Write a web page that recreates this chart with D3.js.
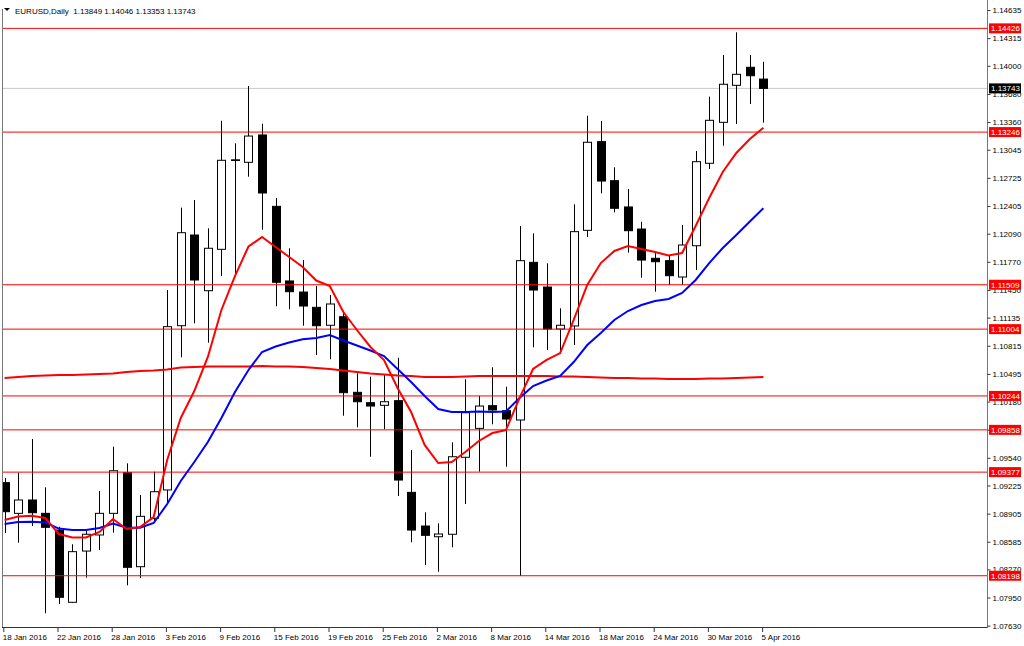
<!DOCTYPE html>
<html>
<head>
<meta charset="utf-8">
<script src="https://cdn.jsdelivr.net/npm/d3@7"></script>
<style>
  html, body { margin: 0; padding: 0; background: #fff; }
  svg { display: block; }
  text { font-family: "Liberation Sans", Arial, sans-serif; }
</style>
</head>
<body>
<svg id="chart" width="1024" height="646"></svg>
<script>
// ---------------- DATA ----------------
const symbolTitle = "EURUSD,Daily";
const dates = [
  "2016-01-18","2016-01-19","2016-01-20","2016-01-21","2016-01-22",
  "2016-01-25","2016-01-26","2016-01-27","2016-01-28","2016-01-29",
  "2016-02-01","2016-02-02","2016-02-03","2016-02-04","2016-02-05",
  "2016-02-08","2016-02-09","2016-02-10","2016-02-11","2016-02-12",
  "2016-02-15","2016-02-16","2016-02-17","2016-02-18","2016-02-19",
  "2016-02-22","2016-02-23","2016-02-24","2016-02-25","2016-02-26",
  "2016-02-29","2016-03-01","2016-03-02","2016-03-03","2016-03-04",
  "2016-03-07","2016-03-08","2016-03-09","2016-03-10","2016-03-11",
  "2016-03-14","2016-03-15","2016-03-16","2016-03-17","2016-03-18",
  "2016-03-21","2016-03-22","2016-03-23","2016-03-24","2016-03-25",
  "2016-03-28","2016-03-29","2016-03-30","2016-03-31","2016-04-01",
  "2016-04-04","2016-04-05"
];
const opens = [
  1.09257,1.08908,1.09060,1.08908,1.08718,
  1.07896,1.08479,1.08662,1.08908,1.09370,
  1.08301,1.08852,1.09174,1.11043,1.12075,
  1.11441,1.11912,1.12930,1.12902,1.13213,
  1.12401,1.11552,1.11426,1.11252,1.11048,
  1.11145,1.10285,1.10167,1.10137,1.10190,
  1.09147,1.08764,1.08642,1.08670,1.09546,
  1.09875,1.10133,1.10076,1.09970,1.11764,
  1.11483,1.11005,1.11040,1.12128,1.13137,
  1.12693,1.12394,1.12143,1.11810,1.11783,
  1.11597,1.11953,1.12891,1.13357,1.13778,
  1.13983,1.13849
];
const highs = [
  1.09310,1.09370,1.09754,1.09204,1.08756,
  1.08556,1.08730,1.09162,1.09666,1.09477,
  1.09117,1.09382,1.11449,1.12386,1.12473,
  1.12151,1.13375,1.13118,1.13770,1.13341,
  1.12496,1.11924,1.11790,1.11495,1.11392,
  1.11214,1.10501,1.10463,1.10490,1.10679,
  1.09629,1.08920,1.08795,1.09716,1.10433,
  1.10243,1.10570,1.10349,1.12177,1.12094,
  1.11753,1.11241,1.12424,1.13432,1.13372,
  1.12845,1.12598,1.12226,1.11874,1.11847,
  1.12189,1.13031,1.13649,1.14123,1.14381,
  1.14123,1.14046
];
const lows = [
  1.08684,1.08574,1.08764,1.07771,1.07876,
  1.07888,1.08176,1.08491,1.08688,1.08089,
  1.08172,1.08821,1.09022,1.10683,1.11070,
  1.10850,1.11608,1.11600,1.12738,1.12135,
  1.11264,1.11230,1.11043,1.10710,1.10661,
  1.10019,1.09887,1.09552,1.09864,1.09105,
  1.08579,1.08320,1.08244,1.08522,1.09014,
  1.09382,1.09921,1.09439,1.08195,1.10797,
  1.10766,1.10729,1.10823,1.12052,1.12549,
  1.12333,1.11874,1.11589,1.11430,1.11506,
  1.11506,1.11677,1.12826,1.13091,1.13338,
  1.13565,1.13353
];
const closes = [
  1.08927,1.09060,1.08915,1.08749,1.07953,
  1.08472,1.08670,1.08908,1.09393,1.08294,
  1.08874,1.09154,1.11032,1.12101,1.11563,
  1.11924,1.12925,1.12925,1.13201,1.12553,
  1.11537,1.11430,1.11267,1.11043,1.11290,
  1.10281,1.10178,1.10129,1.10178,1.09287,
  1.08718,1.08658,1.08673,1.09552,1.10053,
  1.10129,1.10084,1.09981,1.11783,1.11449,
  1.11005,1.11048,1.12113,1.13130,1.12689,
  1.12379,1.12124,1.11790,1.11771,1.11612,
  1.11961,1.12909,1.13380,1.13790,1.13903,
  1.13887,1.13743
];
// moving averages
const fastMA = [
  1.08832,1.08872,1.08881,1.08855,1.08673,1.08633,1.08633,1.08696,1.08844,1.08730,
  1.08753,1.08866,1.09515,1.09993,1.10300,1.10687,1.11222,1.11608,1.11944,1.12052,
  1.11938,1.11825,1.11711,1.11557,1.11495,1.11199,1.10994,1.10801,1.10653,1.10334,
  1.10061,1.09686,1.09481,1.09492,1.09606,1.09731,1.09822,1.09856,1.10220,1.10550,
  1.10653,1.10732,1.11108,1.11506,1.11756,1.11893,1.11950,1.11916,1.11882,1.11842,
  1.11870,1.12177,1.12496,1.12792,1.13008,1.13167,1.13296
];
const slowMA = [
  1.08787,1.08809,1.08813,1.08804,1.08735,1.08718,1.08718,1.08741,1.08792,1.08745,
  1.08745,1.08798,1.09014,1.09276,1.09492,1.09720,1.09993,1.10289,1.10539,1.10744,
  1.10806,1.10852,1.10888,1.10903,1.10937,1.10875,1.10818,1.10761,1.10698,1.10550,
  1.10402,1.10243,1.10095,1.10061,1.10061,1.10067,1.10061,1.10067,1.10220,1.10357,
  1.10419,1.10471,1.10630,1.10823,1.10960,1.11108,1.11210,1.11278,1.11324,1.11347,
  1.11415,1.11563,1.11756,1.11927,1.12075,1.12229,1.12379
];
const longMA = [
  1.10448,1.10459,1.10471,1.10476,1.10482,1.10482,1.10488,1.10493,1.10499,1.10516,
  1.10528,1.10533,1.10545,1.10567,1.10573,1.10579,1.10579,1.10579,1.10579,1.10584,
  1.10579,1.10579,1.10573,1.10562,1.10550,1.10533,1.10516,1.10499,1.10488,1.10476,
  1.10471,1.10459,1.10459,1.10459,1.10465,1.10471,1.10471,1.10471,1.10471,1.10471,
  1.10471,1.10465,1.10465,1.10459,1.10454,1.10448,1.10448,1.10442,1.10442,1.10437,
  1.10437,1.10437,1.10442,1.10442,1.10448,1.10454,1.10459
];
const levels = [1.14426, 1.13246, 1.11509, 1.11004, 1.10244, 1.09858, 1.09377, 1.08198];
const priceTicks = [1.14635,1.14315,1.14000,1.13680,1.13360,1.13045,1.12725,1.12405,1.12090,
  1.11770,1.11450,1.11135,1.10815,1.10495,1.10180,1.09860,1.09540,1.09225,1.08905,
  1.08585,1.08270,1.07950,1.07630];
const dateTickLabels = ["18 Jan 2016","22 Jan 2016","28 Jan 2016","3 Feb 2016","9 Feb 2016",
  "15 Feb 2016","19 Feb 2016","25 Feb 2016","2 Mar 2016","8 Mar 2016","14 Mar 2016",
  "18 Mar 2016","24 Mar 2016","30 Mar 2016","5 Apr 2016"];
const dateTickDates = ["2016-01-18","2016-01-22","2016-01-28","2016-02-03","2016-02-09",
  "2016-02-15","2016-02-19","2016-02-25","2016-03-02","2016-03-08","2016-03-14",
  "2016-03-18","2016-03-24","2016-03-30","2016-04-05"];

// ---------------- LAYOUT ----------------
const svg = d3.select("#chart");
const plotLeft = 2, plotRight = 988, plotBottom = 628;
const x = d3.scalePoint().domain(dates).range([4.6, 763.4]);
const y = d3.scaleLinear().domain([1.07630, 1.14635]).range([625.67, 10]);
const font = "8px";

const clip = svg.append("defs").append("clipPath").attr("id", "plotclip")
  .append("rect").attr("x", plotLeft).attr("y", 0).attr("width", plotRight - plotLeft).attr("height", plotBottom);

const plot = svg.append("g").attr("clip-path", "url(#plotclip)");

// current price line
const lastClose = closes[closes.length - 1];
plot.append("line")
  .attr("x1", plotLeft).attr("x2", plotRight)
  .attr("y1", y(lastClose)).attr("y2", y(lastClose))
  .attr("stroke", "#c8c8c8").attr("stroke-width", 1);

// candles
const candles = plot.append("g");
dates.forEach((d, i) => {
  const cx = Math.round(x(d)) + 0.5;
  const o = opens[i], c = closes[i], h = highs[i], l = lows[i];
  const bull = c >= o;
  candles.append("line")
    .attr("x1", cx).attr("x2", cx)
    .attr("y1", y(h)).attr("y2", y(l))
    .attr("stroke", "#000").attr("stroke-width", 1);
  const top = y(Math.max(o, c)), bot = y(Math.min(o, c));
  candles.append("rect")
    .attr("x", cx - 4).attr("width", 8)
    .attr("y", top).attr("height", Math.max(bot - top, 0.6))
    .attr("fill", bull ? "#fff" : "#000")
    .attr("stroke", "#000").attr("stroke-width", 1);
});

// horizontal levels
levels.forEach(v => {
  plot.append("line")
    .attr("x1", plotLeft).attr("x2", plotRight)
    .attr("y1", y(v)).attr("y2", y(v))
    .attr("stroke", "#ff0000").attr("stroke-width", 1);
});

// moving averages
const line = d3.line().x((d, i) => x(dates[i])).y(d => y(d));
plot.append("path").datum(longMA).attr("d", line)
  .attr("fill", "none").attr("stroke", "#ff0000").attr("stroke-width", 2);
plot.append("path").datum(slowMA).attr("d", line)
  .attr("fill", "none").attr("stroke", "#0000ff").attr("stroke-width", 2);
plot.append("path").datum(fastMA).attr("d", line)
  .attr("fill", "none").attr("stroke", "#ff0000").attr("stroke-width", 2);

// frame
svg.append("line").attr("x1", plotLeft + 0.5).attr("x2", plotLeft + 0.5).attr("y1", 9).attr("y2", plotBottom)
  .attr("stroke", "#777");
svg.append("line").attr("x1", plotLeft).attr("x2", plotRight).attr("y1", plotBottom - 0.5).attr("y2", plotBottom - 0.5)
  .attr("stroke", "#333");
svg.append("line").attr("x1", plotRight - 0.5).attr("x2", plotRight - 0.5).attr("y1", 0).attr("y2", plotBottom)
  .attr("stroke", "#777");

// right price axis
const yAxis = d3.axisRight(y).tickValues(priceTicks).tickSize(3).tickPadding(2)
  .tickFormat(d3.format(".5f"));
const ya = svg.append("g").attr("transform", `translate(${plotRight - 0.5},0)`).call(yAxis);
ya.select(".domain").remove();
ya.selectAll("line").attr("stroke", "#333");
ya.selectAll("text").attr("font-size", font).attr("fill", "#000").attr("font-family", "Liberation Sans, Arial, sans-serif");

// level labels
levels.forEach(v => {
  svg.append("rect").attr("x", 989).attr("y", y(v) - 5).attr("width", 32).attr("height", 10).attr("fill", "#ff0000");
  svg.append("text").attr("x", 991).attr("y", y(v) + 3).attr("font-size", font).attr("fill", "#fff")
    .text(d3.format(".5f")(v));
});
svg.append("rect").attr("x", 989).attr("y", y(lastClose) - 5).attr("width", 32).attr("height", 10).attr("fill", "#000");
svg.append("text").attr("x", 991).attr("y", y(lastClose) + 3).attr("font-size", font).attr("fill", "#fff")
  .text(d3.format(".5f")(lastClose));

// bottom date axis
const xAxis = d3.axisBottom(x).tickValues(dateTickDates).tickSize(4).tickPadding(2)
  .tickFormat(d => dateTickLabels[dateTickDates.indexOf(d)]);
const xa = svg.append("g").attr("transform", `translate(-1.3,${plotBottom})`).call(xAxis);
xa.select(".domain").remove();
xa.selectAll("line").attr("stroke", "#333");
xa.selectAll("text").attr("font-size", font).attr("fill", "#000").attr("text-anchor", "start")
  .attr("x", -1).attr("font-family", "Liberation Sans, Arial, sans-serif");

// header
svg.append("path").attr("d", "M4,8 L10,8 L7,11 Z").attr("fill", "#000");
svg.append("text").attr("x", 15).attr("y", 14).attr("font-size", font).attr("fill", "#000")
  .attr("xml:space", "preserve")
  .text(`${symbolTitle}  ${opens[56].toFixed(5)} ${highs[56].toFixed(5)} ${lows[56].toFixed(5)} ${closes[56].toFixed(5)}`);
</script>
</body>
</html>
